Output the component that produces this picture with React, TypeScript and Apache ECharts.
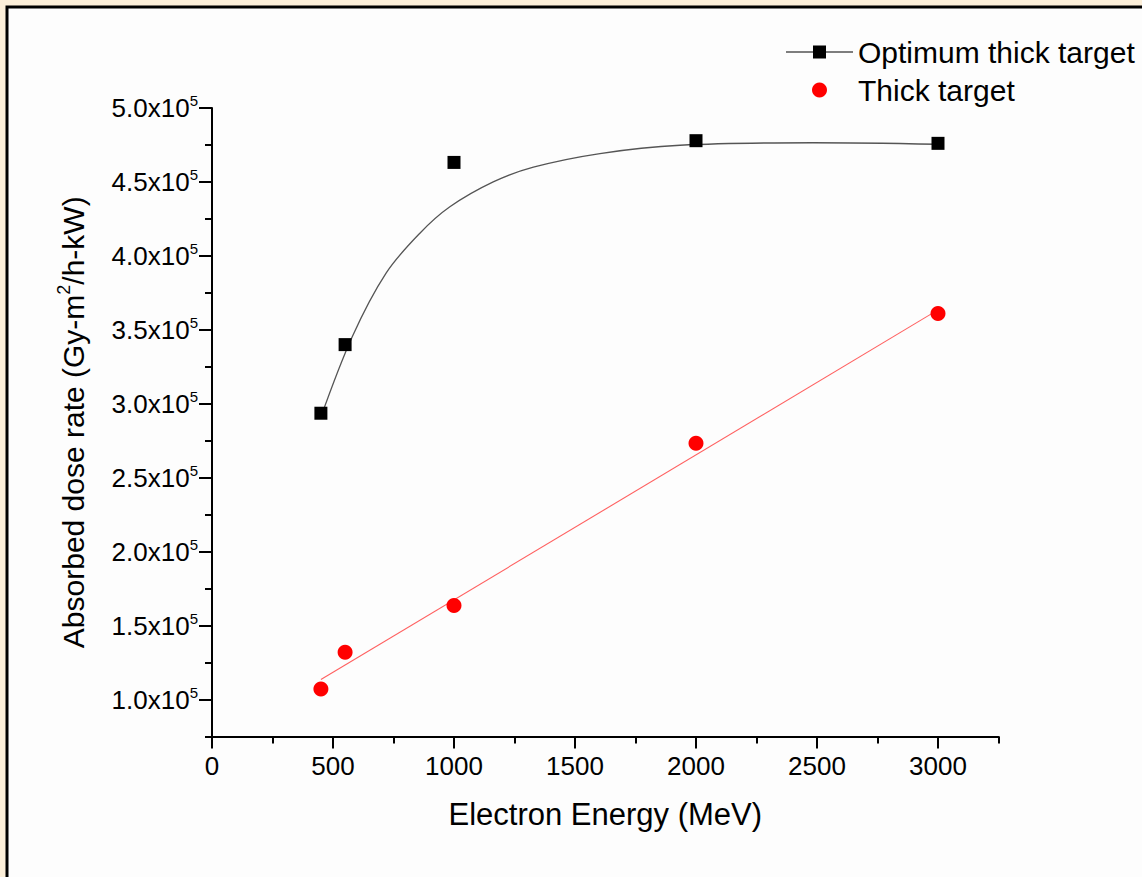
import React, { useEffect, useRef } from "react";
import * as echarts from "echarts";

// ---- data ----
const energies = [450, 550, 1000, 2000, 3000];
const optimumDose = [293600, 340000, 463200, 477900, 476100];
const thickDose = [107200, 132000, 163600, 273300, 361000];

// fitted curve for the optimum thick target
const optimumFitX = [450, 580, 720, 860, 983, 1162, 1328, 1603, 1934, 2483, 3000];
const optimumFitY = [291000, 345500, 388500, 415500, 433200, 450000, 460000, 469200, 474800, 476500, 475500];

// linear fit for the thick target (end points of the drawn line)
const thickFitX = [450, 3000];
const thickFitY = [113500, 363500];

const xTicks = [0, 500, 1000, 1500, 2000, 2500, 3000];
const yTicks = [100000, 150000, 200000, 250000, 300000, 350000, 400000, 450000, 500000];

const FONT = "'Liberation Sans', Arial, Helvetica, sans-serif";

export default function App() {
  const ref = useRef<HTMLDivElement>(null);

  useEffect(() => {
    if (!ref.current) return;
    const chart = echarts.init(ref.current, undefined, { renderer: "svg" });

    const pairs = (xs: number[], ys: number[]) => xs.map((x, i) => [x, ys[i]]);

    const axisLineStyle = { color: "#000", width: 2 };

    chart.setOption({
      animation: false,
      backgroundColor: "#fcefd9",
      textStyle: { fontFamily: FONT, color: "#000" },
      graphic: [
        {
          type: "rect",
          z: -10,
          silent: true,
          shape: { x: 7, y: 7, width: 1300, height: 1000 },
          style: { fill: "#fdfdfd", stroke: "#000", lineWidth: 3 },
        },
      ],
      grid: { left: 212, right: 143.5, top: 108, bottom: 140.5, containLabel: false },
      legend: {
        orient: "vertical",
        left: 781,
        top: 32,
        itemWidth: 67,
        itemHeight: 15,
        itemGap: 8,
        itemTextGap: 10,
        symbolKeepAspect: true,
        textStyle: { fontSize: 30, color: "#000", fontFamily: FONT },
        data: [
          { name: "Optimum thick target", icon: "path://M0,6H27V0H40V6H67V7H40V13H27V7H0Z" },
          { name: "Thick target", icon: "circle" },
        ],
      },
      xAxis: [
        {
          type: "value",
          position: "bottom",
          min: 0,
          max: 3250,
          interval: 250,
          axisLine: { onZero: false, lineStyle: axisLineStyle },
          axisTick: { length: 7, lineStyle: { color: "#000", width: 2 } },
          axisLabel: {
            customValues: xTicks,
            fontSize: 26,
            color: "#000",
            margin: 16,
            fontFamily: FONT,
            formatter: (v: number) => String(v),
          },
          splitLine: { show: false },
          name: "Electron Energy (MeV)",
          nameLocation: "middle",
          nameGap: 62,
          nameTextStyle: { fontSize: 31, color: "#000", fontFamily: FONT },
        },
        {
          type: "value",
          position: "bottom",
          min: 0,
          max: 3250,
          interval: 250,
          axisLine: { show: false, onZero: false },
          axisTick: { customValues: xTicks, length: 12, lineStyle: { color: "#000", width: 2 } },
          axisLabel: { show: false },
          splitLine: { show: false },
        },
      ],
      yAxis: [
        {
          type: "value",
          position: "left",
          min: 75000,
          max: 500000,
          interval: 25000,
          axisLine: { onZero: false, lineStyle: axisLineStyle },
          axisTick: { length: 7, lineStyle: { color: "#000", width: 2 } },
          axisLabel: {
            customValues: yTicks,
            margin: 14,
            color: "#000",
            fontFamily: FONT,
            formatter: (v: number) => `{b|${(v / 100000).toFixed(1)}x10}{s|5}`,
            rich: {
              b: { fontSize: 26, fontFamily: FONT, color: "#000", lineHeight: 30 },
              s: { fontSize: 15, fontFamily: FONT, color: "#000", verticalAlign: "top", lineHeight: 14 },
            },
          },
          splitLine: { show: false },
          name: "{a|Absorbed dose rate (Gy-m}{s|2}{a|/h-kW)}",
          nameLocation: "middle",
          nameGap: 121,
          nameTextStyle: {
            color: "#000",
            fontFamily: FONT,
            rich: {
              a: { fontSize: 30, fontFamily: FONT, color: "#000", lineHeight: 36 },
              s: { fontSize: 18, fontFamily: FONT, color: "#000", verticalAlign: "top", lineHeight: 18 },
            },
          },
        },
        {
          type: "value",
          position: "left",
          min: 75000,
          max: 500000,
          interval: 25000,
          axisLine: { show: false, onZero: false },
          axisTick: { customValues: yTicks, length: 13, lineStyle: { color: "#000", width: 2 } },
          axisLabel: { show: false },
          splitLine: { show: false },
        },
      ],
      series: [
        {
          name: "Optimum fit",
          type: "line",
          xAxisIndex: 0,
          yAxisIndex: 0,
          data: pairs(optimumFitX, optimumFitY),
          smooth: 0.35,
          showSymbol: false,
          symbol: "none",
          lineStyle: { color: "#555", width: 1.3 },
          z: 1,
        },
        {
          name: "Thick fit",
          type: "line",
          xAxisIndex: 0,
          yAxisIndex: 0,
          data: pairs(thickFitX, thickFitY),
          showSymbol: false,
          symbol: "none",
          lineStyle: { color: "#ff6060", width: 1.1 },
          z: 1,
        },
        {
          name: "Optimum thick target",
          type: "scatter",
          xAxisIndex: 0,
          yAxisIndex: 0,
          data: pairs(energies, optimumDose),
          symbol: "rect",
          symbolSize: 13,
          itemStyle: { color: "#000", opacity: 1 },
          z: 3,
        },
        {
          name: "Thick target",
          type: "scatter",
          xAxisIndex: 0,
          yAxisIndex: 0,
          data: pairs(energies, thickDose),
          symbol: "circle",
          symbolSize: 15,
          itemStyle: { color: "#ff0000", opacity: 1 },
          z: 3,
        },
      ],
    });

    return () => chart.dispose();
  }, []);

  return (
    <div
      ref={ref}
      style={{ position: "fixed", left: 0, top: 0, width: 1142, height: 877 }}
    />
  );
}
